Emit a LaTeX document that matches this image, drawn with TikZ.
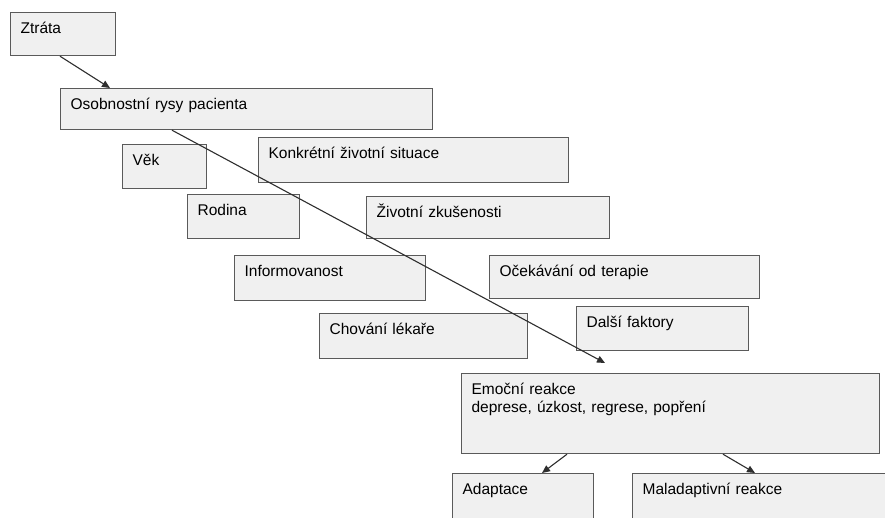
\documentclass[tikz,border=0pt]{standalone}
\usepackage{fontspec}
\setmainfont{Liberation Sans}
\usetikzlibrary{arrows.meta}
\definecolor{boxfill}{HTML}{F0F0F0}
\definecolor{boxline}{HTML}{5A5A5A}
\definecolor{arrline}{HTML}{2E2E2E}
\begin{document}
\begin{tikzpicture}[x=1pt, y=-1pt,
  box/.style={draw=boxline, line width=1.2pt, fill=boxfill, anchor=north west,
    inner xsep=10pt, inner ysep=0pt, text height=21pt, align=left,
    font=\fontsize{15.5}{17.5}\selectfont},
  arr/.style={draw=arrline, line width=1.1pt, -{Triangle[length=8pt,width=7pt]}}]

\clip (0,0) rectangle (885,517);

\node[box, text width=85pt, text depth=22pt] (ztrata) at (10,12) {Ztráta};
\node[box, text width=352pt, text depth=20pt] (osob) at (60,88) {Osobnostní rysy pacienta};
\node[box, text width=64pt, text depth=23pt] (vek) at (122,144) {Věk};
\node[box, text width=290pt, text depth=24pt] (situace) at (258,137) {Konkrétní životní situace};
\node[box, text width=92pt, text depth=23pt] (rodina) at (187,194) {Rodina};
\node[box, text width=223pt, text depth=21pt] (zkusenosti) at (366,196) {Životní zkušenosti};
\node[box, text width=171pt, text depth=24pt] (info) at (234,255) {Informovanost};
\node[box, text width=250pt, text depth=22pt] (ocekavani) at (489,255) {Očekávání od terapie};
\node[box, text width=188pt, text depth=24pt] (lekar) at (319,313) {Chování lékaře};
\node[box, text width=152pt, text depth=23pt] (dalsi) at (576,306) {Další faktory};
\node[box, text width=398pt, text depth=59pt] (emoce) at (461,373) {Emoční reakce\\deprese, úzkost, regrese, popření};
\node[box, text width=121pt, text depth=39pt] (adapt) at (452,473) {Adaptace};
\node[box, text width=260pt, text depth=39pt] (malad) at (632,473) {Maladaptivní reakce};

\draw[arr] ([xshift=50pt]ztrata.south west) -- ([xshift=50pt]osob.north west);
\draw[arr] ([xshift=112pt]osob.south west) -- ([xshift=144pt,yshift=10pt]emoce.north west);
\draw[arr] ([xshift=106pt]emoce.south west) -- ([xshift=90pt]adapt.north west);
\draw[arr] ([xshift=262pt]emoce.south west) -- ([xshift=123pt]malad.north west);
\end{tikzpicture}
\end{document}
